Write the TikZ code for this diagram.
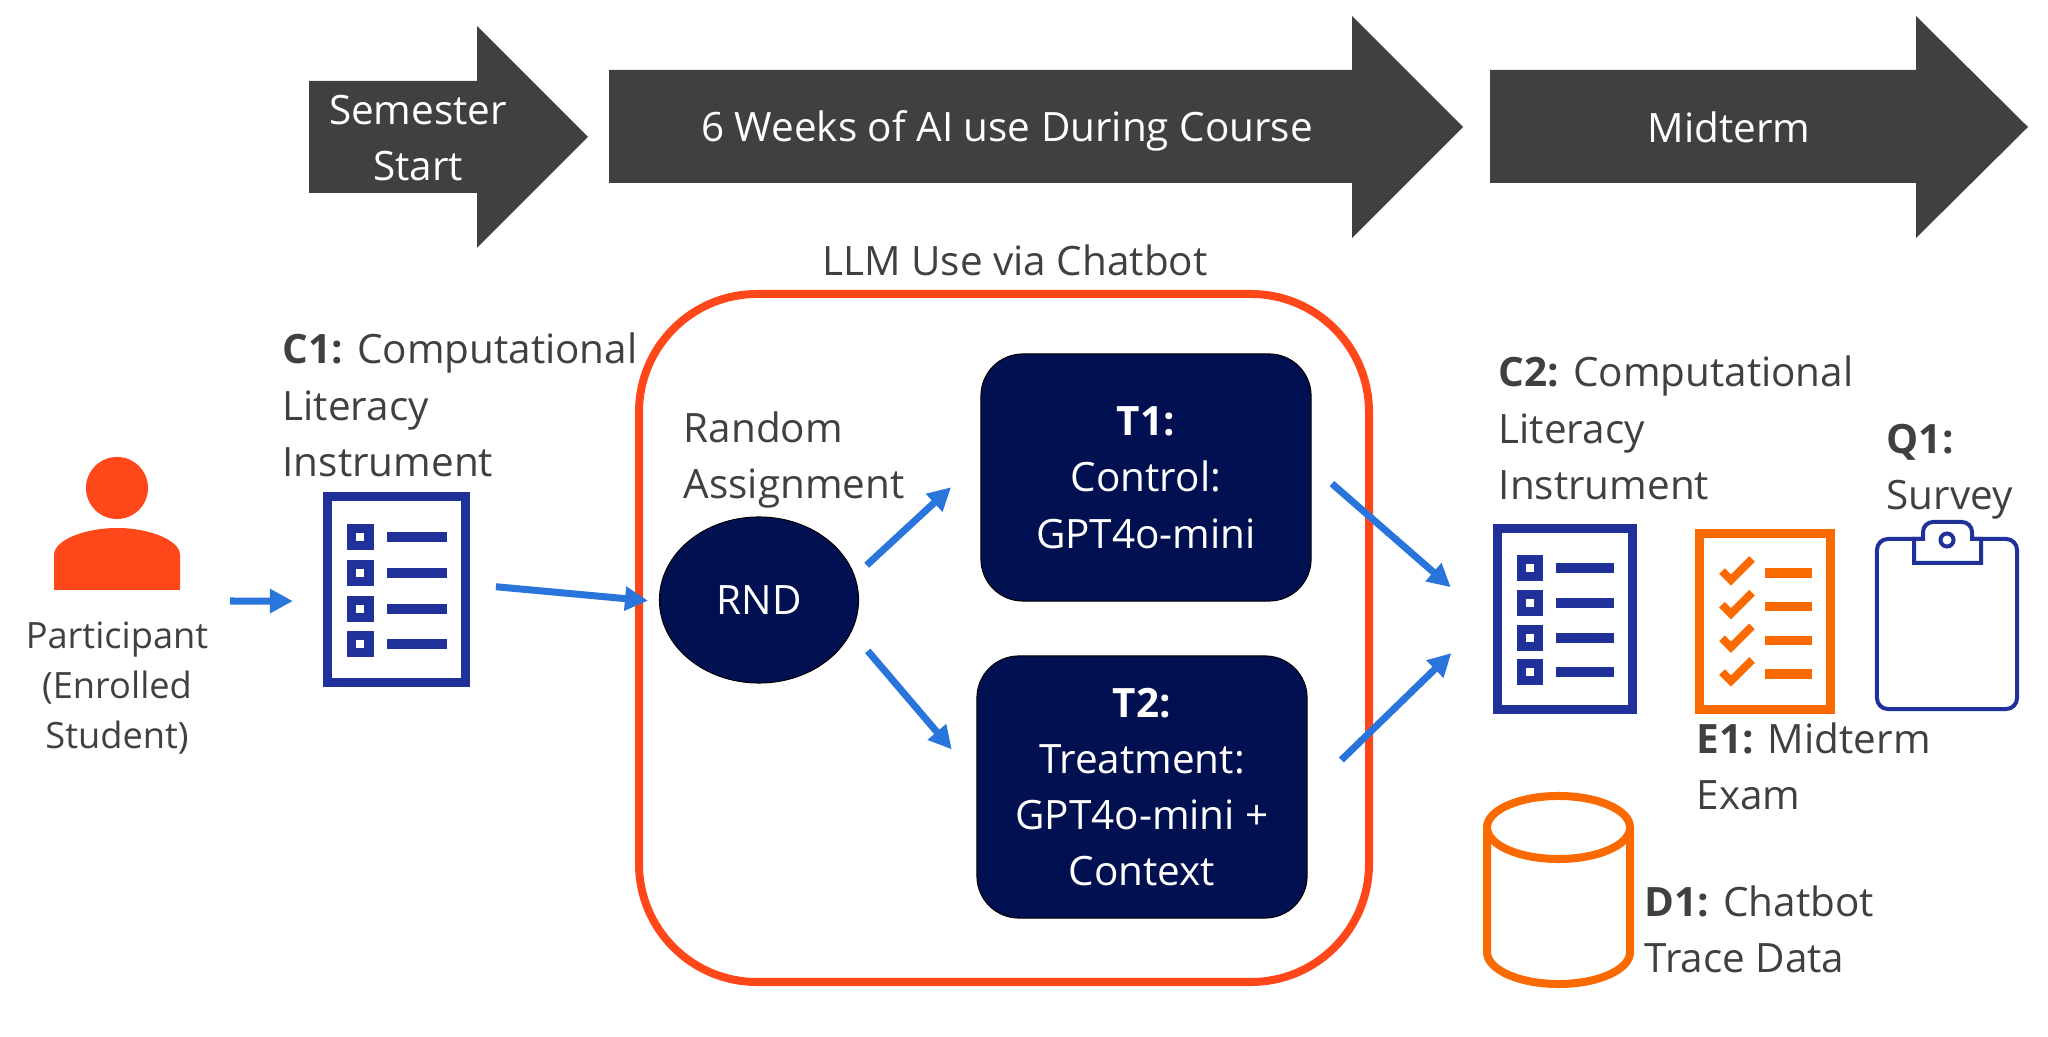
\documentclass[tikz,border=0pt]{standalone}
\usepackage{fontspec}
\setmainfont{Open Sans}
\usetikzlibrary{arrows.meta,calc,shapes.geometric}
\definecolor{darkbar}{HTML}{404040}
\definecolor{navybox}{HTML}{001050}
\definecolor{redline}{HTML}{FF471A}
\definecolor{flowblue}{HTML}{2A75DC}
\definecolor{iconblue}{HTML}{203299}
\definecolor{iconorange}{HTML}{FA6A00}
\tikzset{
  txt/.style={text=darkbar,font=\fontsize{11.5}{16}\selectfont,align=left,inner sep=0pt},
  whitetxt/.style={text=white,font=\fontsize{11.5}{16}\selectfont,align=center,inner sep=0pt},
  treat/.style={draw=black,line width=0.01cm,fill=navybox,rounded corners=0.42cm,text=white,font=\fontsize{11.5}{16}\selectfont,align=center,inner sep=0pt},
  flow/.style={draw=flowblue,line width=0.07cm,-{Triangle[length=0.23cm,width=0.23cm]}},
  docicon/.style={draw=#1,line width=0.09cm,fill=white,inner sep=0pt},
}
\newcommand{\listrows}[3]{
  \begin{scope}[shift={(#1.north west)},x=#2cm,y=-#3cm]
    \foreach \r in {.232,.416,.6,.78} {
      \fill[iconblue] (.165,\r-.067) rectangle (.345,\r+.067);
      \fill[white] (.228,\r-.022) rectangle (.282,\r+.022);
      \draw[iconblue,line width=0.095cm] (.438,\r) -- (.84,\r);
    }
  \end{scope}
}
\begin{document}
\begin{tikzpicture}[x=0.01cm,y=-0.01cm]
\useasboundingbox (0,0) rectangle (2048,1037);
% timeline
\fill[darkbar] (309,81)--(477,81)--(477,26)--(588,137)--(477,248)--(477,193)--(309,193)--cycle;
\fill[darkbar] (609,70)--(1352,70)--(1352,16)--(1463,127)--(1352,238)--(1352,183)--(609,183)--cycle;
\fill[darkbar] (1490,70)--(1916,70)--(1916,16)--(2028,127)--(1916,238)--(1916,183)--(1490,183)--cycle;
\node[whitetxt] (start) at (418,138) {Semester\\Start};
\node[whitetxt] (weeks) at (1007,131) {6 Weeks of AI use During Course};
\node[whitetxt] (midterm) at (1729,127) {Midterm};
% chatbot frame
\draw[redline,line width=0.08cm,rounded corners=1.18cm] (639,294) rectangle (1369,982);
\node[txt] (llm) at (1015,260) {LLM Use via Chatbot};
% participant
\fill[redline] (117,488) circle (0.31cm);
\fill[redline] (54,590)--(54,555) .. controls (54,540) and (85,528) .. (117,528)
  .. controls (149,528) and (180,540) .. (180,555)--(180,590)--cycle;
\node[txt,align=center,font=\fontsize{10.3}{14.2}\selectfont] (part) at (117,688) {Participant\\(Enrolled\\Student)};
\coordinate (partout) at (230,601);
% pre instrument
\node[txt,anchor=west] (cone) at (282,405) {\textbf{C1:} Computational\\Literacy\\Instrument};
\node[docicon=iconblue,minimum width=1.38cm,minimum height=1.86cm] (doca) at (396.5,589.5) {};
\listrows{doca}{1.47}{1.95}
% assignment
\node[txt,anchor=west] (rand) at (683,460) {Random\\Assignment};
\node[ellipse,fill=navybox,draw=black,line width=0.01cm,minimum width=1.99cm,minimum height=1.66cm,inner sep=0pt,text=white,font=\fontsize{11.5}{16}\selectfont] (rnd) at (759,600) {RND};
\node[treat,minimum width=3.3cm,minimum height=2.47cm] (tone) at (1146,477.5) {\textbf{T1:}\\Control:\\GPT4o-mini};
\node[treat,minimum width=3.3cm,minimum height=2.62cm] (ttwo) at (1142,787) {\textbf{T2:}\\Treatment:\\GPT4o-mini +\\Context};
% post measures
\node[txt,anchor=west] (ctwo) at (1498,428) {\textbf{C2:} Computational\\Literacy\\Instrument};
\node[docicon=iconblue,minimum width=1.35cm,minimum height=1.81cm] (docb) at (1565,619) {};
\listrows{docb}{1.44}{1.90}
\node[docicon=iconorange,minimum width=1.31cm,minimum height=1.76cm] (exam) at (1765,621.5) {};
\foreach \r in {573,606.7,640.3,674} {
  \draw[iconorange,line width=0.08cm] (1722,\r-2)--(1731,\r+7)--(1752,\r-14);
  \draw[iconorange,line width=0.095cm] (1765,\r)--(1812,\r);
}
\node[txt,anchor=west] (eone) at (1696,766) {\textbf{E1:} Midterm\\Exam};
\node[txt,anchor=west] (qone) at (1886,472) {\textbf{Q1:}\\Survey};
\node[draw=iconblue,line width=0.04cm,rounded corners=0.11cm,minimum width=1.4cm,minimum height=1.7cm,inner sep=0pt] (clip) at (1947,624) {};
\draw[iconblue,line width=0.04cm,fill=white] (1914,539)--(1914,563)--(1981,563)--(1981,539)--(1972,539)
  [rounded corners=0.1cm]--(1972,522)--(1923,522)[sharp corners]--(1923,539)--cycle;
\draw[iconblue,line width=0.04cm] (1947,540) circle (0.065cm);
\draw[iconorange,line width=0.08cm] (1558.5,827.5) ellipse [x radius=0.715cm,y radius=0.315cm];
\draw[iconorange,line width=0.08cm] (1487,827.5)--(1487,952) arc[start angle=180,end angle=360,x radius=0.715cm,y radius=0.32cm]--(1630,827.5);
\node[txt,anchor=west] (done) at (1644,929) {\textbf{D1:} Chatbot\\Trace Data};
% connectors
\draw[flow,shorten >=0.30cm] (partout) -- (doca.189);
\draw[flow,shorten <=0.26cm,shorten >=0.11cm] (doca.4.7) -- (rnd.181);
\draw[flow,shorten <=0.16cm,shorten >=0.40cm] (rnd.14) -- (tone.174);
\draw[flow,shorten <=0.25cm,shorten >=0.38cm] (rnd.-19) -- (ttwo.177);
\draw[flow,shorten <=0.27cm,shorten >=0.56cm] (tone.4) -- (docb.184.6);
\draw[flow,shorten <=0.47cm,shorten >=0.58cm] (ttwo.-2) -- (docb.175.6);
\end{tikzpicture}
\end{document}
